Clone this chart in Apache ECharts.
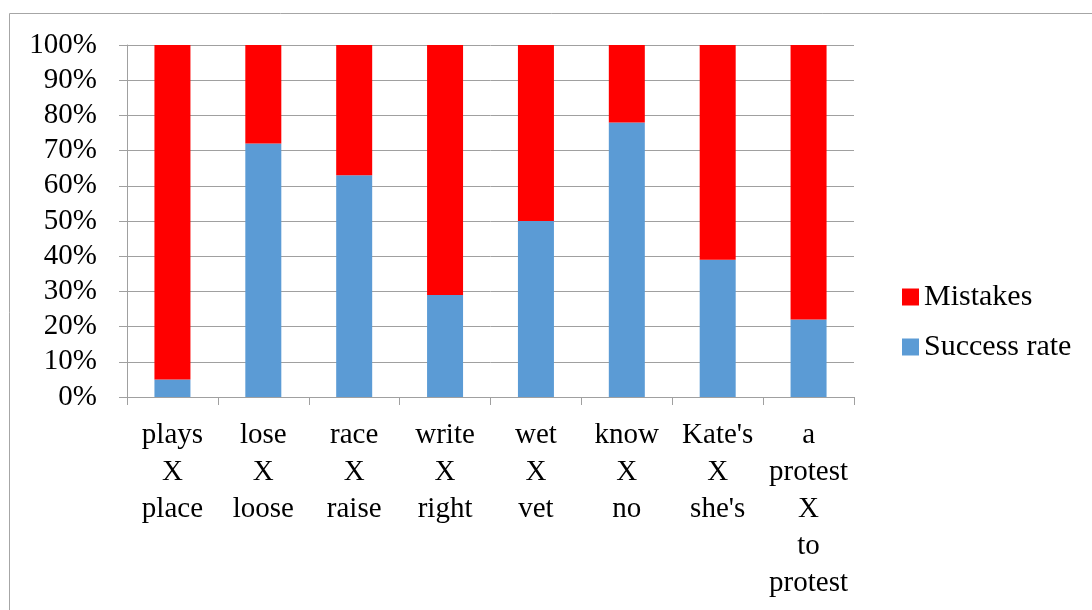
<!DOCTYPE html>
<html>
<head>
<meta charset="utf-8">
<script src="https://cdn.jsdelivr.net/npm/echarts@6/dist/echarts.min.js"></script>
<style>
  body { margin: 0; background: #fff; }
  #main { width: 1092px; height: 610px; }
</style>
</head>
<body>
<div id="main"></div>
<script>
const categories = ['plays\nX\nplace', 'lose\nX\nloose', 'race\nX\nraise', 'write\nX\nright', 'wet\nX\nvet', 'know\nX\nno', "Kate's\nX\nshe's", 'a\nprotest\nX\nto\nprotest']
const successRate = [5, 72, 63, 29, 50, 78, 39, 22]
const mistakes = [95, 28, 37, 71, 50, 22, 61, 78]

const font = 'Liberation Serif'
const myChart = echarts.init(document.getElementById('main'))

myChart.setOption({
  animation: false,
  textStyle: { fontFamily: font },
  graphic: [
    // outer chart frame
    {
      type: 'rect',
      shape: { x: 9.5, y: 13.5, width: 1200, height: 700 },
      style: { fill: 'none', stroke: '#a6a6a6', lineWidth: 1 }
    }
  ],
  grid: { left: 127, right: 238, top: 45, bottom: 213 },
  legend: {
    orient: 'vertical',
    left: 897,
    top: 277,
    icon: 'rect',
    itemWidth: 17,
    itemHeight: 17,
    itemGap: 20,
    data: ['Mistakes', 'Success rate'],
    textStyle: { fontFamily: font, fontSize: 30, color: '#000' }
  },
  xAxis: {
    type: 'category',
    data: categories,
    axisLine: { lineStyle: { color: '#a0a0a0' } },
    axisTick: { show: true, length: 8, alignWithLabel: false, lineStyle: { color: '#a0a0a0' } },
    axisLabel: {
      interval: 0,
      margin: 20,
      fontFamily: font,
      fontSize: 29,
      lineHeight: 37,
      color: '#000',
      align: 'center'
    }
  },
  yAxis: {
    type: 'value',
    min: 0,
    max: 100,
    interval: 10,
    axisLine: { show: true, lineStyle: { color: '#a0a0a0' } },
    axisTick: { show: true, length: 8, lineStyle: { color: '#a0a0a0' } },
    splitLine: { lineStyle: { color: '#a0a0a0' } },
    axisLabel: {
      formatter: '{value}%',
      margin: 30,
      fontFamily: font,
      fontSize: 29,
      color: '#000'
    }
  },
  series: [
    {
      name: 'Success rate',
      type: 'bar',
      stack: 'total',
      barWidth: 36,
      itemStyle: { color: '#5b9bd5' },
      data: successRate
    },
    {
      name: 'Mistakes',
      type: 'bar',
      stack: 'total',
      barWidth: 36,
      itemStyle: { color: '#ff0000' },
      data: mistakes
    }
  ]
})
</script>
</body>
</html>
